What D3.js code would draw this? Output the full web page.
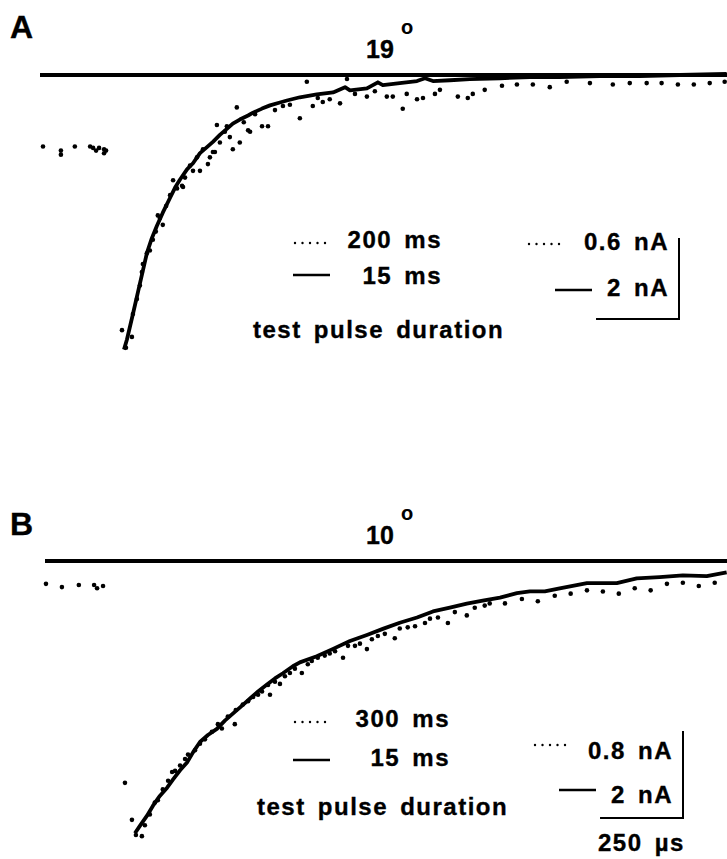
<!DOCTYPE html>
<html>
<head>
<meta charset="utf-8">
<script src="https://cdn.jsdelivr.net/npm/d3@7"></script>
<style>
body { margin: 0; background: #fff; }
text { font-family: "Liberation Sans", Arial, sans-serif; font-weight: bold; fill: #000; stroke: #000; stroke-width: 0.35px; }
.lbl { font-size: 24px; letter-spacing: 1.5px; word-spacing: 4px; }
</style>
</head>
<body>
<svg width="727" height="859"></svg>
<script>
// time in microseconds, current in nA
var solidA = [[253,-6.78],[262,-6.53],[280,-5.90],[301,-5.15],[310,-4.83],[322,-4.40],[337,-4.03],[352,-3.73],
  [370,-3.40],[392,-3.03],[407,-2.78],[422,-2.58],[443,-2.33],[461,-2.18],[482,-1.93],[503,-1.78],[521,-1.65],
  [542,-1.48],[563,-1.33],[581,-1.20],[602,-1.10],[627,-1.00],[642,-0.93],[669,-0.83],[693,-0.75],[723,-0.68],
  [744,-0.63],[783,-0.55],[834,-0.48],[883,-0.43],[919,-0.30],[934,-0.38],[985,-0.33],[1018,-0.18],[1033,-0.25],
  [1084,-0.20],[1136,-0.15],[1160,-0.08],[1184,-0.15],[1235,-0.13],[1295,-0.10],[1386,-0.08],[1476,-0.05],
  [1566,-0.05],[1687,-0.03],[1807,-0.03],[1928,0],[2069,0.03]];

var dotsA = [[9,-0.53],[63,-0.56],[63,-0.59],[105,-0.53],[151,-0.53],[160,-0.54],[169,-0.56],[178,-0.54],
  [193,-0.55],[193,-0.58],[199,-0.56],
  [247,-1.89],[259,-2.02],[277,-1.94],[280,-1.77],[292,-1.66],[301,-1.56],[307,-1.46],[310,-1.40],[322,-1.32],
  [331,-1.30],[340,-1.22],[349,-1.16],[355,-1.04],[361,-1.06],[370,-1.11],[380,-0.97],[392,-0.89],[401,-0.78],
  [413,-0.84],[428,-0.82],[431,-0.83],[437,-0.76],[452,-0.67],[461,-0.71],[473,-0.61],[482,-0.71],[491,-0.55],
  [506,-0.66],[512,-0.61],[521,-0.57],[527,-0.57],[533,-0.37],[542,-0.50],[557,-0.42],[563,-0.38],[572,-0.46],
  [581,-0.55],[593,-0.24],[602,-0.50],[614,-0.35],[627,-0.41],[633,-0.42],[648,-0.29],[669,-0.38],[687,-0.38],
  [708,-0.26],[732,-0.23],[753,-0.22],[783,-0.32],[804,-0.05],[822,-0.23],[837,-0.17],[852,-0.20],[873,-0.18],
  [904,-0.21],[925,-0.03],[949,-0.14],[985,-0.16],[1009,-0.12],[1045,-0.16],[1063,-0.16],[1093,-0.25],[1105,-0.14],
  [1136,-0.18],[1154,-0.17],[1190,-0.14],[1205,-0.11],[1259,-0.16],[1289,-0.17],[1304,-0.14],[1340,-0.11],
  [1392,-0.08],[1437,-0.07],[1485,-0.07],[1536,-0.09],[1587,-0.05],[1657,-0.06],[1726,-0.07],[1777,-0.06],
  [1828,-0.06],[1873,-0.06],[1922,-0.07],[1970,-0.07],[2018,-0.06],[2063,-0.05]];

var solidB = [[286,-6.26],[301,-6.09],[322,-5.86],[340,-5.63],[361,-5.40],[383,-5.21],[401,-5.02],[422,-4.81],
  [443,-4.63],[461,-4.40],[482,-4.16],[506,-4.00],[533,-3.86],[557,-3.67],[581,-3.51],[608,-3.33],[633,-3.16],
  [657,-3.00],[684,-2.84],[708,-2.70],[732,-2.58],[762,-2.42],[783,-2.33],[834,-2.19],[883,-2.02],[934,-1.84],
  [985,-1.70],[1033,-1.56],[1084,-1.42],[1136,-1.30],[1184,-1.16],[1235,-1.07],[1286,-0.98],[1334,-0.91],
  [1386,-0.84],[1437,-0.74],[1476,-0.70],[1521,-0.70],[1566,-0.63],[1648,-0.51],[1738,-0.51],[1798,-0.40],
  [1867,-0.37],[1937,-0.33],[2009,-0.35],[2069,-0.26]];

var dotsB = [[18,-0.21],[66,-0.24],[117,-0.22],[163,-0.22],[172,-0.25],[190,-0.23],
  [256,-2.04],[277,-2.38],[289,-2.52],[307,-2.53],[316,-2.43],[331,-2.33],[346,-2.22],[355,-2.20],[370,-2.10],
  [386,-2.02],[398,-1.94],[407,-1.93],[422,-1.88],[437,-1.82],[446,-1.78],[467,-1.74],[482,-1.68],[497,-1.64],
  [518,-1.57],[536,-1.50],[548,-1.54],[566,-1.43],[587,-1.50],[590,-1.37],[611,-1.32],[627,-1.29],[642,-1.25],
  [657,-1.23],[669,-1.20],[687,-1.14],[693,-1.23],[708,-1.11],[723,-1.13],[738,-1.06],[753,-1.03],[768,-0.99],
  [789,-1.03],[807,-0.95],[819,-0.92],[837,-0.89],[858,-0.87],[873,-0.85],[889,-0.83],[913,-0.89],[928,-0.78],
  [949,-0.78],[964,-0.76],[985,-0.81],[1000,-0.72],[1018,-0.69],[1039,-0.67],[1069,-0.71],[1084,-0.62],
  [1108,-0.61],[1130,-0.60],[1160,-0.57],[1175,-0.53],[1199,-0.52],[1229,-0.57],[1250,-0.47],[1286,-0.50],
  [1310,-0.43],[1340,-0.41],[1355,-0.39],[1401,-0.39],[1452,-0.35],[1500,-0.37],[1551,-0.32],[1599,-0.30],
  [1648,-0.27],[1696,-0.28],[1744,-0.30],[1792,-0.25],[1840,-0.27],[1889,-0.21],[1937,-0.20],[1985,-0.23],
  [2033,-0.20]];

var pulseA = ["200 ms", "15 ms"];
var pulseB = ["300 ms", "15 ms"];
var scaleA = [0.6, 2];   // nA for dotted, solid
var scaleB = [0.8, 2];
var timeBar = 250;       // microseconds
var tempA = "19", tempB = "10";

var svg = d3.select("svg");
var x = d3.scaleLinear().domain([0, 2070]).range([40, 727]);

var panels = [
  {label: "A", temp: tempA, solid: solidA, dots: dotsA, pulse: pulseA, scale: scaleA,
   y0: 75, barPx: 81, top: 0, bx0: 40, lx: 295, ly: 243, rx: 679, ry: 238},
  {label: "B", temp: tempB, solid: solidB, dots: dotsB, pulse: pulseB, scale: scaleB,
   y0: 561, barPx: 87, top: 490, bx0: 45, lx: 295, ly: 722, rx: 683, ry: 731}
];

var line = function(ys) {
  return d3.line().x(function(d) { return x(d[0]); }).y(function(d) { return ys(d[1]); });
};

panels.forEach(function(p, k) {
  var ys = d3.scaleLinear().domain([0, -p.scale[1]]).range([p.y0, p.y0 + p.barPx]);
  var yd = d3.scaleLinear().domain([0, -p.scale[0]]).range([p.y0, p.y0 + p.barPx]);
  var g = svg.append("g");

  g.append("text").attr("x", 10).attr("y", p.top + 38 + (k ? 7 : 0))
    .style("font-size", "32px").text(p.label);
  g.append("text").attr("x", 366).attr("y", p.top + 58 + (k ? -4 : 0))
    .style("font-size", "25px").text(p.temp);
  g.append("text").attr("x", 401).attr("y", p.top + 34 + (k ? -4 : 0))
    .style("font-size", "20px").style("stroke-width", "0.1px").text("o");

  // zero line
  g.append("line")
    .attr("x1", p.bx0).attr("x2", x(2070))
    .attr("y1", ys(0)).attr("y2", ys(0))
    .attr("stroke", "#000").attr("stroke-width", 4);

  g.append("path").datum(p.solid)
    .attr("d", line(ys))
    .attr("fill", "none").attr("stroke", "#000")
    .attr("stroke-width", 3.8).attr("stroke-linejoin", "round");

  g.selectAll(".dot").data(p.dots).enter()
    .append("circle").attr("class", "dot")
    .attr("cx", function(d) { return x(d[0]); })
    .attr("cy", function(d) { return yd(d[1]); })
    .attr("r", 2.3).attr("fill", "#000");

  // legend: test pulse duration
  var lg = g.append("g").attr("transform", "translate(" + p.lx + "," + p.ly + ")");
  lg.selectAll(".ld").data(d3.range(5)).enter().append("circle")
    .attr("cx", function(i) { return i * 7.5; }).attr("cy", 0).attr("r", 1.2).attr("fill", "#000");
  lg.append("text").attr("class", "lbl").attr("x", 147 + k * 8).attr("y", 5).attr("text-anchor", "end")
    .text(p.pulse[0]);
  lg.append("line").attr("x1", -2).attr("x2", 35).attr("y1", 32 + k * 6).attr("y2", 32 + k * 6)
    .attr("stroke", "#000").attr("stroke-width", 2.5);
  lg.append("text").attr("class", "lbl").attr("x", 147 + k * 8).attr("y", 41 + k * 3).attr("text-anchor", "end")
    .text(p.pulse[1]);
  lg.append("text").attr("class", "lbl").attr("x", -42 + k * 4).attr("y", 95 - k * 2)
    .text("test pulse duration");

  // scale bar
  var sg = g.append("g").attr("transform", "translate(" + p.rx + "," + p.ry + ")");
  var vlen = ys(-p.scale[1]) - ys(0);
  var hlen = x(timeBar) - x(0);
  sg.append("path")
    .attr("d", "M0,0V" + vlen + "H" + (-hlen))
    .attr("fill", "none").attr("stroke", "#000").attr("stroke-width", 2);
  sg.selectAll(".sd").data(d3.range(5)).enter().append("circle")
    .attr("cx", function(i) { return -150 + i * 7.5 + k * 2; }).attr("cy", 6 + k * 8)
    .attr("r", 1.2).attr("fill", "#000");
  sg.append("text").attr("class", "lbl").attr("x", -10).attr("y", 12 + k * 16).attr("text-anchor", "end")
    .text(p.scale[0] + " nA");
  sg.append("line").attr("x1", -124).attr("x2", -87).attr("y1", 52 + k * 7).attr("y2", 52 + k * 7)
    .attr("stroke", "#000").attr("stroke-width", 2.5);
  sg.append("text").attr("class", "lbl").attr("x", -10).attr("y", 58 + k * 14).attr("text-anchor", "end")
    .text(p.scale[1] + " nA");
  if (k === 1) {
    sg.append("text").attr("class", "lbl").attr("x", -85).attr("y", vlen + 33)
      .text(timeBar + " \u00b5s");
  }
});
</script>
</body>
</html>
